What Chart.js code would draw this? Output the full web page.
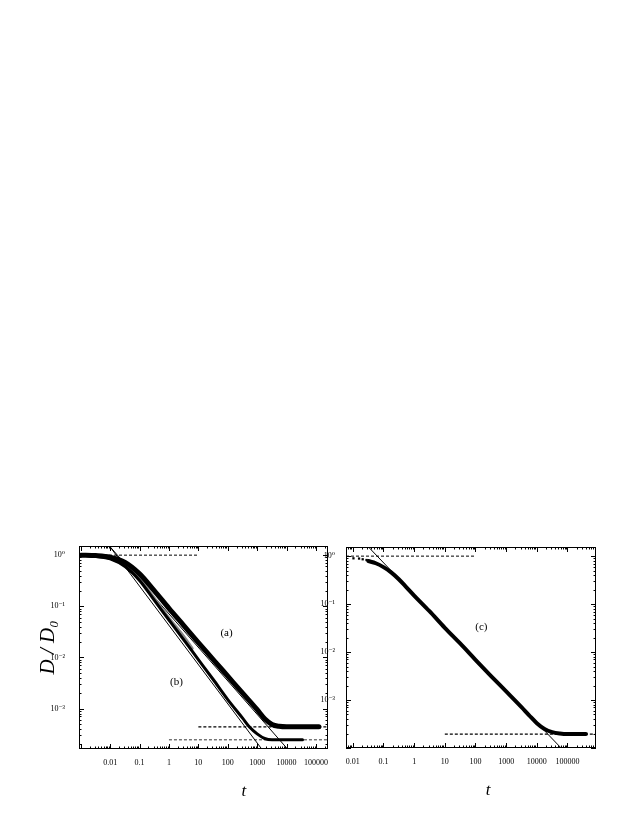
<!DOCTYPE html>
<html><head><meta charset="utf-8">
<script src="https://cdn.jsdelivr.net/npm/chart.js@4"></script>
<style>
html,body{margin:0;padding:0;background:#fff;}
body{width:638px;height:825px;position:relative;overflow:hidden;}
canvas{display:block;position:absolute;}
#c1{left:0;top:530px;}
#c2{left:318px;top:530px;}
</style></head><body>
<canvas id="c1" width="336" height="295"></canvas>
<canvas id="c2" width="320" height="295"></canvas>
<script>
// ---- tick labels ----
const xTickValues = [0.01, 0.1, 1, 10, 100, 1000, 10000, 100000];
const xTickLabels = ['0.01', '0.1', '1', '10', '100', '1000', '10000', '100000'];
const yTickValues = [1, 0.1, 0.01, 0.001];
const yTickLabels = ['10⁰', '10⁻¹', '10⁻²', '10⁻³'];

// ---- left panel: curve (a) ----
const tA = [0.001,0.0032,0.01,0.032,0.1,0.32,1,3.2,10,32,100,320,1000,1800,3200,5600,10000,32000,100000,126000];
const dA = [1.0,0.98,0.91,0.72,0.43,0.20,0.091,0.042,0.0195,0.0091,0.0043,0.0020,0.00095,0.00063,0.00049,0.00045,0.00044,0.00044,0.00044,0.00044];
// ---- left panel: curve (b) ----
const tB = [0.001,0.0032,0.01,0.032,0.1,0.32,1,3.2,10,32,100,320,560,1000,1800,3200,10000,35000];
const dB = [1.0,0.95,0.85,0.60,0.32,0.13,0.054,0.022,0.0091,0.0037,0.0015,0.00065,0.00043,0.00032,0.00026,0.000245,0.000245,0.000245];
// ---- left panel: grey open-symbol runs ----
const tGray = [0.002,0.0056,0.01,0.032,0.1,0.32,1,3.2,6.3];
const dGray = [0.98,0.93,0.86,0.62,0.35,0.145,0.060,0.026,0.015];
// ---- left panel: power-law fits and asymptotes ----
const fitAT = [0.0095, 11000];
const fitAD = [1.5, 1.6e-4];
const fitBT = [0.0095, 1450];
const fitBD = [1.5, 1.6e-4];
const plateauA = 0.00044;
const plateauB = 0.000245;

// ---- right panel: curve (c) ----
const tCEarly = [0.0105, 0.016, 0.021, 0.028];
const dCEarly = [0.90, 0.89, 0.86, 0.83];
const tC = [0.032,0.056,0.1,0.178,0.316,0.562,1,3.16,10,31.6,100,316,1000,3160,5620,10000,17800,31600,56200,100000,400000];
const dC = [0.79,0.71,0.59,0.46,0.33,0.224,0.151,0.071,0.032,0.0151,0.0069,0.0032,0.00151,0.00071,0.00048,0.00033,0.00025,0.000214,0.0002,0.000195,0.000195];
const fitCT = [0.033, 60000];
const fitCD = [1.53, 1.02e-4];
const plateauC = 0.000195;

const serif = "'Liberation Serif','DejaVu Serif',serif";

function pts(xs, ys) { return xs.map((x, i) => ({x: x, y: ys[i]})); }
function curve(xs, ys, w, color) {
  return {data: pts(xs, ys), borderColor: color || '#000', borderWidth: w, pointRadius: 0,
          fill: false, cubicInterpolationMode: 'monotone', borderCapStyle: 'round', borderJoinStyle: 'round'};
}
function straight(xs, ys, dashed, w, color) {
  return {data: pts(xs, ys), borderColor: color || '#000', borderWidth: w || 1, pointRadius: 0,
          fill: false, tension: 0, borderDash: dashed ? [3, 2] : []};
}

const framePlugin = {
  id: 'frame',
  afterDatasetsDraw(chart, args, opts) {
    const ctx = chart.ctx, a = chart.chartArea, x = chart.scales.x, y = chart.scales.y;
    ctx.save();
    ctx.strokeStyle = '#000';
    ctx.lineWidth = 1;
    ctx.strokeRect(Math.round(a.left) + 0.5, Math.round(a.top) + 0.5,
                   Math.round(a.right - a.left) - 1, Math.round(a.bottom - a.top) - 1);
    const each = (scale, fn) => {
      const lo = Math.floor(Math.log10(scale.min)), hi = Math.ceil(Math.log10(scale.max));
      for (let k = lo; k <= hi; k++) for (let m = 1; m <= 9; m++) {
        const v = m * Math.pow(10, k);
        if (v < scale.min || v > scale.max) continue;
        fn(scale.getPixelForValue(v), m === 1 ? 5 : 2.5);
      }
    };
    ctx.beginPath();
    each(x, (px, len) => { px = Math.round(px) + 0.5;
      ctx.moveTo(px, a.bottom); ctx.lineTo(px, a.bottom - len);
      ctx.moveTo(px, a.top); ctx.lineTo(px, a.top + len); });
    each(y, (py, len) => { py = Math.round(py) + 0.5;
      ctx.moveTo(a.left, py); ctx.lineTo(a.left + len, py);
      ctx.moveTo(a.right, py); ctx.lineTo(a.right - len, py); });
    ctx.stroke();
    ctx.fillStyle = '#000';
    ctx.textAlign = 'center';
    ctx.textBaseline = 'middle';
    (opts.labels || []).forEach(l => {
      ctx.font = '11px ' + serif;
      ctx.fillText(l.text, x.getPixelForValue(l.t), y.getPixelForValue(l.d));
    });
    if (opts.xTitleAt) {
      ctx.font = 'italic 17px ' + serif;
      ctx.fillText('t', x.getPixelForValue(opts.xTitleAt), a.bottom + 43);
    }
    ctx.restore();
  }
};

function makeChart(id, datasets, cfg) {
  return new Chart(document.getElementById(id), {
    type: 'line',
    data: {datasets: datasets},
    plugins: [framePlugin],
    options: {
      responsive: false, animation: false,
      layout: {padding: cfg.padding},
      plugins: {legend: {display: false}, tooltip: {enabled: false},
                frame: {labels: cfg.labels, xTitleAt: cfg.xTitleAt}},
      scales: {
        x: {type: 'logarithmic', min: cfg.xmin, max: cfg.xmax,
            grid: {display: false}, border: {display: false},
            afterBuildTicks: s => { s.ticks = xTickValues.map(v => ({value: v})); },
            afterFit: s => { s.height = 60; },
            ticks: {callback: (v, i) => xTickLabels[i], font: {family: serif, size: 8}, color: '#000',
                    padding: 1, maxRotation: 0, autoSkip: false}},
        y: {type: 'logarithmic', min: cfg.ymin, max: cfg.ymax,
            grid: {display: false}, border: {display: false},
            afterBuildTicks: s => { s.ticks = yTickValues.map(v => ({value: v})); },
            afterFit: s => { s.width = cfg.yWidth; },
            ticks: {callback: (v, i) => yTickLabels[i], font: {family: serif, size: 8}, color: '#000',
                    padding: cfg.yPad, autoSkip: false},
            title: {display: cfg.yTitle, text: 'D / D₀', color: '#000',
                    font: {family: serif, size: 21, style: 'italic'}, padding: {top: 36, bottom: 0}}}
      }
    }
  });
}

// left panel
makeChart('c1', [
  curve(tA, dA, 5),
  curve(tB, dB, 3),
  curve(tGray, dGray, 2.5, '#8a8a8a'),
  straight(fitAT, fitAD, false, 1),
  straight(fitBT, fitBD, false, 1),
  straight([8.7e-4, 10], [1, 1], true, 1),
  straight([10, 2.6e5], [plateauA, plateauA], true, 1.3),
  straight([1, 2.6e5], [plateauB, plateauB], true, 1, '#333')
], {
  padding: {left: 0, top: 16, right: 8, bottom: 16},
  xmin: 8.7e-4, xmax: 2.57e5, ymin: 1.62e-4, ymax: 1.51,
  yWidth: 79, yPad: 6, yTitle: true, xTitleAt: 350,
  labels: [{text: '(a)', t: 91, d: 0.030}, {text: '(b)', t: 1.8, d: 0.0033}]
});

// right panel
const earlyC = {data: pts(tCEarly, dCEarly), showLine: false, pointStyle: 'rect', pointRadius: 1.6,
                pointBackgroundColor: '#000', pointBorderColor: '#000', borderWidth: 0};
makeChart('c2', [
  earlyC,
  curve(tC, dC, 4),
  straight(fitCT, fitCD, false, 1),
  straight([0.006, 100], [1, 1], true, 1),
  straight([10, 8.5e5], [plateauC, plateauC], true, 1.2)
], {
  padding: {left: 0, top: 17, right: 42, bottom: 17},
  xmin: 0.006, xmax: 8.5e5, ymin: 1.0e-4, ymax: 1.55,
  yWidth: 28, yPad: 3, yTitle: false, xTitleAt: 260,
  labels: [{text: '(c)', t: 155, d: 0.033}]
});
</script>
</body></html>
